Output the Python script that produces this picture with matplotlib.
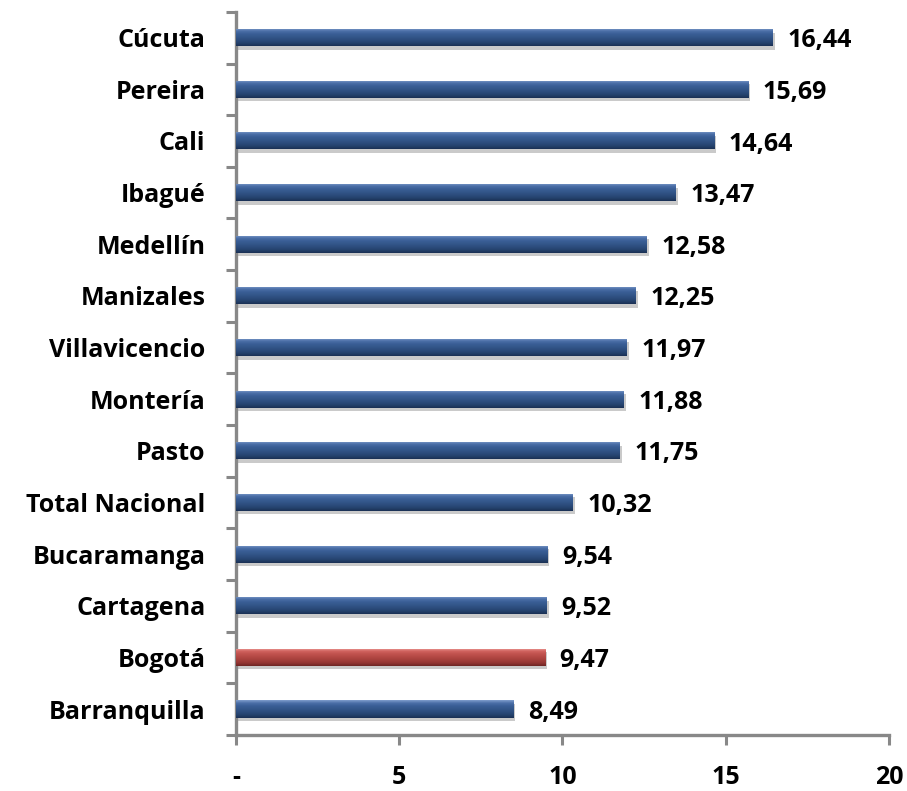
import numpy as np
import matplotlib
matplotlib.use('Agg')
import matplotlib.pyplot as plt
import matplotlib.patheffects as pe
from matplotlib.colors import LinearSegmentedColormap

CITIES = ['Cúcuta', 'Pereira', 'Cali', 'Ibagué', 'Medellín', 'Manizales',
          'Villavicencio', 'Montería', 'Pasto', 'Total Nacional',
          'Bucaramanga', 'Cartagena', 'Bogotá', 'Barranquilla']
VALUES = [16.44, 15.69, 14.64, 13.47, 12.58, 12.25, 11.97, 11.88, 11.75,
          10.32, 9.54, 9.52, 9.47, 8.49]
HIGHLIGHT = 'Bogotá'

X_TICKS = [0, 5, 10, 15, 20]
X_TICK_LABELS = ['-', '5', '10', '15', '20']

# top -> bottom of each bar
BLUE_GRAD = ['#7e9dcc', '#4a6ea6', '#3a5e95', '#33568a', '#2c4c7c', '#25426d', '#1a3054']
RED_GRAD = ['#eea09c', '#d0625e', '#c0524e', '#b34844', '#a43f3b', '#933532', '#6e2624']

plt.rcParams['font.family'] = ['Open Sans', 'DejaVu Sans']
FS = 18

fig = plt.figure(figsize=(9.07, 7.91), dpi=100)
ax = fig.add_axes([0.260, 0.071, 0.720, 0.914])

y = np.arange(len(CITIES))
bars = ax.barh(y, VALUES, height=0.33, color='#33568a', zorder=2,
               path_effects=[pe.SimplePatchShadow(offset=(1.5, -2.5), shadow_rgbFace='#a8a8a8', alpha=0.6),
                             pe.Normal()])

# gradient fill clipped to each bar
for bar, city in zip(bars, CITIES):
    cmap = LinearSegmentedColormap.from_list('g', RED_GRAD if city == HIGHLIGHT else BLUE_GRAD)
    x0, y0 = bar.get_x(), bar.get_y()
    w, h = bar.get_width(), bar.get_height()
    grad = np.linspace(1, 0, 64).reshape(-1, 1)
    im = ax.imshow(grad, cmap=cmap, aspect='auto', origin='lower',
                   extent=[x0, x0 + w, y0 + h, y0], zorder=3)
    im.set_clip_path(bar)

ax.set_xlim(0, 20)
ax.set_ylim(len(CITIES) - 0.5, -0.5)

for yi, v in zip(y, VALUES):
    ax.text(v + 0.45, yi + 0.06, f'{v:.2f}'.replace('.', ','), va='center', ha='left',
            fontsize=FS, fontweight='bold', color='black')

ax.set_yticks(y)
ax.set_yticklabels(CITIES, fontsize=FS, fontweight='bold')
ax.set_yticks(np.arange(-0.5, len(CITIES)), minor=True)
ax.tick_params(axis='y', which='major', length=0, pad=22)
ax.tick_params(axis='y', which='minor', length=7, width=2.2, color='#888888')

ax.set_xticks(X_TICKS)
ax.set_xticklabels(X_TICK_LABELS, fontsize=FS, fontweight='bold')
ax.tick_params(axis='x', length=7, width=2.2, color='#888888', pad=15)

for side in ['top', 'right']:
    ax.spines[side].set_visible(False)
for side in ['left', 'bottom']:
    ax.spines[side].set_color('#888888')
    ax.spines[side].set_linewidth(2.4)

fig.savefig('out.png', dpi=100)
